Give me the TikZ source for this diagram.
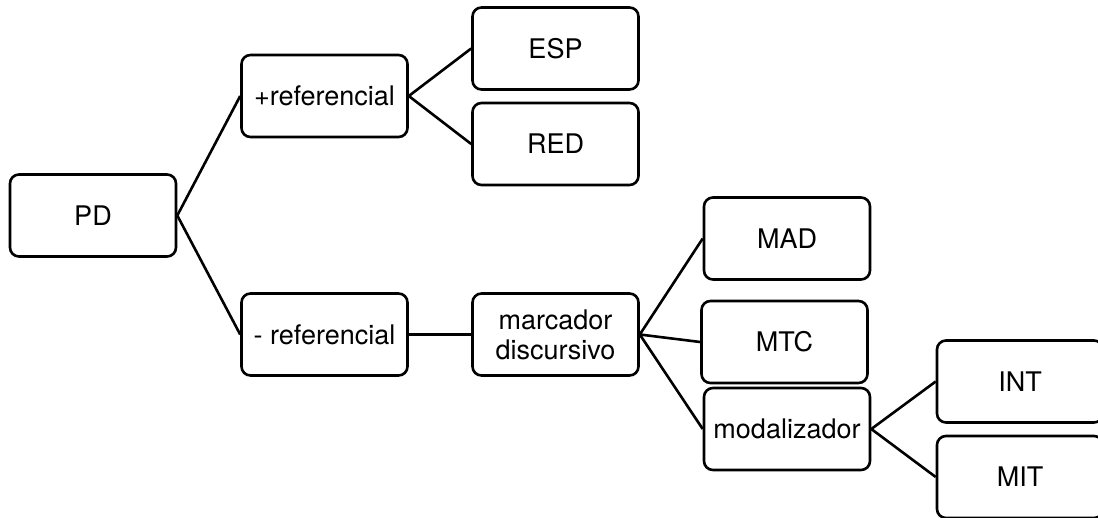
\documentclass[tikz,border=0pt]{standalone}
\usepackage{fontspec}
\setmainfont{TeX Gyre Heros}
\begin{document}
\begin{tikzpicture}[x=1pt,y=-1pt,
  box/.style={draw, line width=2.6pt, rounded corners=9pt, minimum width=166pt, minimum height=82pt, align=center, inner sep=0pt, font=\fontsize{27}{30}\selectfont},
  link/.style={line width=2.6pt}]
\useasboundingbox (0,0) rectangle (1098,517);
\node[box] (pd) at (93,215.5) {PD};
\node[box] (plus) at (324.5,96) {+referencial};
\node[box] (minus) at (324.5,334.5) {- referencial};
\node[box] (esp) at (555.5,48.5) {ESP};
\node[box] (red) at (555.5,144) {RED};
\node[box] (marc) at (555.5,334.5) {marcador\\discursivo};
\node[box] (mad) at (787,238.5) {MAD};
\node[box] (mtc) at (784.5,342) {MTC};
\node[box] (modal) at (787,429) {modalizador};
\node[box] (int) at (1020,381.5) {INT};
\node[box] (mit) at (1020,477) {MIT};
\draw[link] (pd.east) -- (plus.west);
\draw[link] (pd.east) -- (minus.west);
\draw[link] (plus.east) -- (esp.west);
\draw[link] (plus.east) -- (red.west);
\draw[link] (minus.east) -- (marc.west);
\draw[link] (marc.east) -- (mad.west);
\draw[link] (marc.east) -- (mtc.west);
\draw[link] (marc.east) -- (modal.west);
\draw[link] (modal.east) -- (int.west);
\draw[link] (modal.east) -- (mit.west);
\end{tikzpicture}
\end{document}
